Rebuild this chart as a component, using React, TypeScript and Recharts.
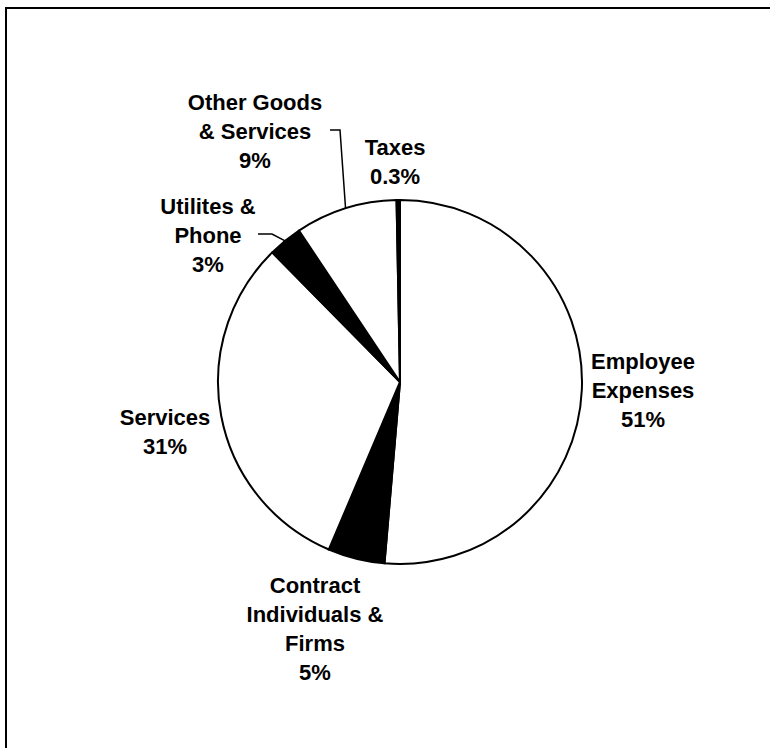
import { PieChart, Pie, Cell } from 'recharts';

const categories = ['Employee Expenses', 'Contract Individuals & Firms', 'Services', 'Utilites & Phone', 'Other Goods & Services', 'Taxes'];
const shares = [51, 5, 31, 3, 9, 0.3];
const labelLines = [
  ['Employee', 'Expenses'],
  ['Contract', 'Individuals &', 'Firms'],
  ['Services'],
  ['Utilites &', 'Phone'],
  ['Other Goods', '& Services'],
  ['Taxes'],
];
const fills = ['#ffffff', '#000000', '#ffffff', '#000000', '#ffffff', '#000000'];

// label block centre, relative to the pie centre
const labelOffsets = [
  [243, 8],
  [-85, 247],
  [-235, 50],
  [-192, -147],
  [-145, -251],
  [-5, -220],
];
// leader lines: [elbow dx, elbow dy, end dx] relative to pie centre
const leaders: Record<number, number[]> = {
  3: [-128, -148, -142],
  4: [-60, -252, -70],
};

const data = categories.map((name, i) => ({ name, value: shares[i] }));

const RADIAN = Math.PI / 180;
const LINE_H = 29;

function renderLabel(props: any) {
  const { cx, cy, midAngle, outerRadius, index } = props;
  const lines = [...labelLines[index], `${shares[index]}%`];
  const [dx, dy] = labelOffsets[index];
  const x = cx + dx;
  const y0 = cy + dy - ((lines.length - 1) * LINE_H) / 2;
  const lead = leaders[index];
  let path = null;
  if (lead) {
    const ex = cx + outerRadius * Math.cos(-midAngle * RADIAN);
    const ey = cy + outerRadius * Math.sin(-midAngle * RADIAN);
    path = (
      <polyline
        points={`${ex},${ey} ${cx + lead[0]},${cy + lead[1]} ${cx + lead[2]},${cy + lead[1]}`}
        fill="none"
        stroke="#000"
        strokeWidth={1.5}
      />
    );
  }
  return (
    <g>
      {path}
      {lines.map((t, i) => (
        <text
          key={i}
          x={x}
          y={y0 + i * LINE_H}
          textAnchor="middle"
          dominantBaseline="central"
          fontFamily="'Liberation Sans', Arial, sans-serif"
          fontWeight="bold"
          fontSize={22}
          fill="#000"
        >
          {t}
        </text>
      ))}
    </g>
  );
}

export default function App() {
  return (
    <div style={{ position: 'fixed', left: 0, top: 0, width: 770, height: 748, overflow: 'hidden', background: '#fff' }}>
      <div
        style={{
          position: 'absolute',
          left: 5,
          top: 7,
          width: 820,
          height: 820,
          border: '2px solid #000',
        }}
      />
      <div style={{ position: 'absolute', left: 0, top: 0 }}>
        <PieChart width={770} height={748} margin={{ top: 0, right: 0, bottom: 0, left: 0 }}>
          <Pie
            data={data}
            dataKey="value"
            nameKey="name"
            cx={400}
            cy={382}
            outerRadius={182}
            startAngle={90}
            endAngle={-270}
            stroke="#000"
            strokeWidth={2}
            label={renderLabel}
            labelLine={false}
            isAnimationActive={false}
          >
            {data.map((d, i) => (
              <Cell key={d.name} fill={fills[i]} />
            ))}
          </Pie>
        </PieChart>
      </div>
    </div>
  );
}
